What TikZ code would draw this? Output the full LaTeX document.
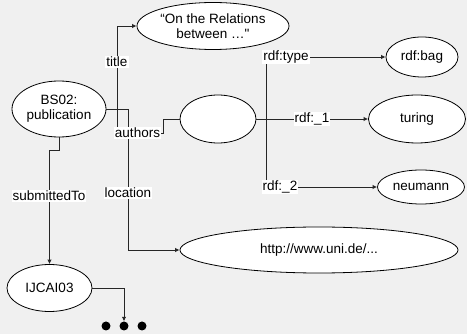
\documentclass[tikz,border=0pt]{standalone}
\usepackage{fontspec}
\setmainfont{Liberation Sans}
\usetikzlibrary{shapes.geometric,arrows.meta}
\begin{document}
\begin{tikzpicture}[x=1pt,y=-1pt,
  every node/.style={font=\fontsize{13.5}{15}\selectfont},
  res/.style={ellipse,draw=black,fill=white,line width=0.8pt,inner sep=0pt,align=center},
  edge/.style={draw=black!85,line width=0.9pt},
  arr/.style={edge,-{Latex[length=4.5pt,width=4.5pt]}},
  lbl/.style={fill=white,inner sep=1pt},
  dot/.style={circle,fill=black,inner sep=0pt,minimum size=9pt}]
% canvas
\fill[black!6] (0,0) rectangle (467,334);
\useasboundingbox (0,0) rectangle (467,334);

% resources
\node[res,minimum width=94pt,minimum height=56pt] (bs) at (59,109) {BS02:\\publication};
\node[res,minimum width=152pt,minimum height=47pt] (title) at (213,26) {“On the Relations\\between …\textquotedbl};
\node[res,minimum width=76pt,minimum height=48pt] (blank) at (218,119) {};
\node[res,minimum width=72pt,minimum height=40pt] (bag) at (422,57) {rdf:bag};
\node[res,minimum width=97pt,minimum height=48pt] (turing) at (417,119) {turing};
\node[res,minimum width=87pt,minimum height=34pt] (neu) at (421,187) {neumann};
\node[res,minimum width=278pt,minimum height=46pt] (url) at (319,250) {http://www.uni.de/...};
\node[res,minimum width=85pt,minimum height=47pt] (ijcai) at (49.5,288) {IJCAI03};

% continuation dots
\node[dot] (d1) at (106,326) {};
\node[dot] (d2) at (124,326) {};
\node[dot] (d3) at (142,326) {};

% junction points
\coordinate (jt) at (117,109);
\coordinate (jl) at (128,109);
\coordinate (jb) at (266,119);

% properties of BS02
\draw[arr] (bs.east) -- (jt) |- (title.west);
\draw[edge] (jt) |- (163,133) |- (blank.west);
\draw[arr] (bs.east) -- (jl) |- (url.west);
\draw[arr] (bs.south) -- (59,150) -| (ijcai.north);
\draw[arr] (ijcai.east) -| (d2.north);

% properties of the bag
\draw[arr] (blank.east) -- (turing.west);
\draw[arr] (jb) |- (bag.west);
\draw[arr] (jb) |- (neu.west);

% edge labels
\node[lbl] (ltitle) at (117,62) {title};
\node[lbl] (lauth) at (137.5,133) {authors};
\node[lbl] (lloc) at (128,193) {location};
\node[lbl] (lsub) at (49,196) {submittedTo};
\node[lbl] (ltype) at (286,57) {rdf:type};
\node[lbl] (l1) at (312,119) {rdf:\_1};
\node[lbl] (l2) at (280,187) {rdf:\_2};
\end{tikzpicture}
\end{document}
